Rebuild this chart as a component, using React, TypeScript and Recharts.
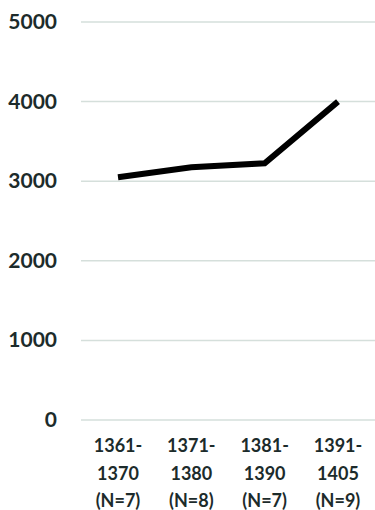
import { LineChart, Line, XAxis, YAxis, CartesianGrid } from "recharts";

const PERIODS = ["1361-", "1371-", "1381-", "1391-"];
const PERIOD_ENDS = ["1370", "1380", "1390", "1405"];
const COUNTS = ["(N=7)", "(N=8)", "(N=7)", "(N=9)"];
const VALUES = [3050, 3175, 3225, 4000];
const Y_TICKS = [0, 1000, 2000, 3000, 4000, 5000];

const TEXT_COLOR = "#1c2b2b";
const FONT = "Lato, 'Open Sans', sans-serif";

const chartData = PERIODS.map((p, i) => ({
  label: i,
  value: VALUES[i],
}));

const YTick = ({ x, y, payload }: any) => (
  <text
    x={x}
    y={y}
    dy={7}
    textAnchor="end"
    fill={TEXT_COLOR}
    fontFamily={FONT}
    fontWeight={700}
    fontSize={21}
  >
    {payload.value}
  </text>
);

const XTick = ({ x, payload }: any) => {
  const i = payload.value as number;
  const lines = [PERIODS[i], PERIOD_ENDS[i], COUNTS[i]];
  // baselines measured from the plot bottom (y = 420)
  return (
    <g>
      {lines.map((line, k) => (
        <text
          key={k}
          x={x}
          y={452 + k * 27.5}
          textAnchor="middle"
          fill={TEXT_COLOR}
          fontFamily={FONT}
          fontWeight={700}
          fontSize={18}
        >
          {line}
        </text>
      ))}
    </g>
  );
};

const App = () => {
  return (
    <div style={{ position: "absolute", left: 0, top: 0 }}>
      <LineChart
        width={375}
        height={510}
        data={chartData}
        margin={{ top: 22, right: 0, bottom: 0, left: 0 }}
      >
        <CartesianGrid vertical={false} stroke="#d5dfdb" strokeWidth={1.5} />
        <XAxis
          dataKey="label"
          axisLine={false}
          tickLine={false}
          height={90}
          interval={0}
          tick={<XTick />}
          padding={{ left: 37, right: 37 }}
        />
        <YAxis
          domain={[0, 5000]}
          ticks={Y_TICKS}
          axisLine={false}
          tickLine={false}
          width={81}
          tick={<YTick />}
          tickMargin={18}
        />
        <Line
          type="linear"
          dataKey="value"
          stroke="#000000"
          strokeWidth={6}
          dot={false}
          isAnimationActive={false}
        />
      </LineChart>
    </div>
  );
};

export default App;
